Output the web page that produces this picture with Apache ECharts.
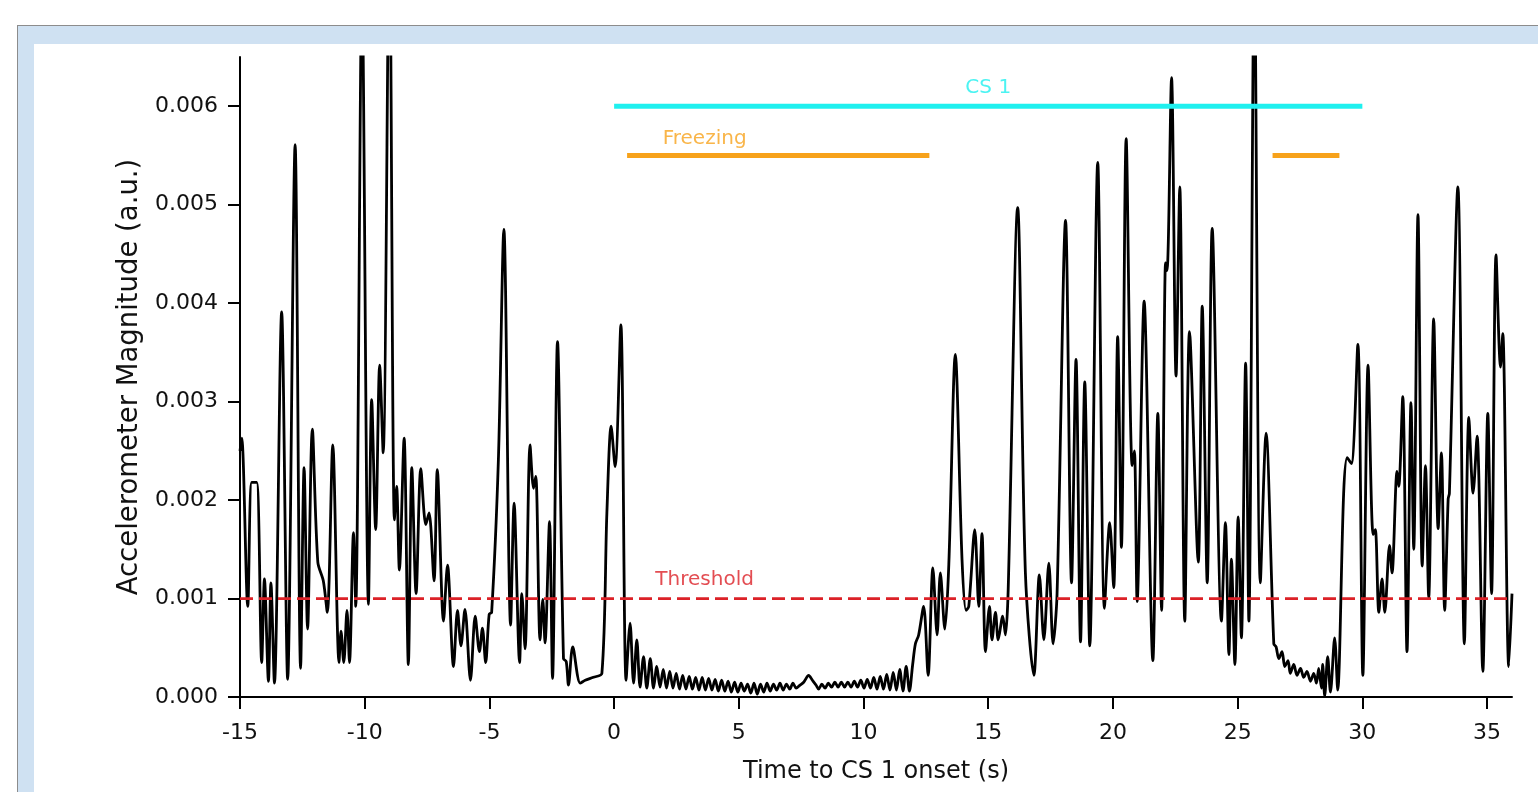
<!DOCTYPE html>
<html>
<head>
<meta charset="utf-8">
<script src="https://cdn.jsdelivr.net/npm/echarts@6/dist/echarts.min.js"></script>
<style>
  html, body { margin: 0; padding: 0; background: #ffffff; overflow: hidden; }
  #frame { position: absolute; left: 17px; top: 25px; width: 1600px; height: 900px;
           border: 1px solid #8c8c8c; background: #cfe1f2; box-sizing: border-box; }
  #panel { position: absolute; left: 34px; top: 44px; width: 1600px; height: 900px; background: #ffffff; }
  #chart { position: absolute; left: 0; top: 0; width: 1538px; height: 792px; }
</style>
</head>
<body>
<div id="frame"></div>
<div id="panel"></div>
<div id="chart"></div>
<script>
// ---- Data (time in s, magnitude in units of 0.001 a.u.) ----
const xTicks = [-15, -10, -5, 0, 5, 10, 15, 20, 25, 30, 35];
const yTicks = [0, 1, 2, 3, 4, 5, 6];
const yTickLabels = ['0.000', '0.001', '0.002', '0.003', '0.004', '0.005', '0.006'];

const signalPre = [
  [-15.0, 2.5], [-14.93, 2.63], [-14.69, 0.92], [-14.53, 2.18], [-14.33, 2.18], [-14.13, 0.35],
  [-14.02, 1.2], [-13.86, 0.16], [-13.76, 1.16], [-13.62, 0.14], [-13.33, 3.91], [-13.09, 0.18],
  [-12.79, 5.61], [-12.57, 0.29], [-12.43, 2.33], [-12.29, 0.69], [-12.1, 2.72], [-11.88, 1.37],
  [-11.66, 1.18], [-11.5, 0.86], [-11.28, 2.56], [-11.03, 0.35], [-10.95, 0.67], [-10.84, 0.35],
  [-10.71, 0.88], [-10.61, 0.35], [-10.45, 1.67], [-10.36, 0.92], [-10.11, 7.2], [-9.85, 0.94],
  [-9.72, 3.02], [-9.56, 1.7], [-9.4, 3.37], [-9.26, 2.48], [-9.01, 7.8], [-8.81, 1.8],
  [-8.72, 2.14], [-8.61, 1.29], [-8.42, 2.63], [-8.25, 0.33], [-8.11, 2.33], [-7.94, 1.05],
  [-7.75, 2.32], [-7.55, 1.75], [-7.42, 1.87], [-7.22, 1.18], [-7.09, 2.31], [-6.84, 0.77],
  [-6.68, 1.34], [-6.44, 0.31], [-6.28, 0.88], [-6.14, 0.52], [-5.98, 0.89], [-5.76, 0.17],
  [-5.57, 0.82], [-5.4, 0.46], [-5.28, 0.7], [-5.15, 0.35], [-5.01, 0.84], [-4.91, 0.86],
  [-4.64, 2.41], [-4.42, 4.75], [-4.15, 0.73], [-4.01, 1.97], [-3.79, 0.35], [-3.7, 1.05],
  [-3.57, 0.49], [-3.37, 2.56], [-3.23, 2.12], [-3.14, 2.24], [-2.97, 0.58], [-2.86, 0.99],
  [-2.77, 0.55], [-2.59, 1.78], [-2.47, 0.19], [-2.27, 3.61], [-2.03, 0.39], [-1.92, 0.36],
  [-1.83, 0.12], [-1.66, 0.51], [-1.36, 0.14], [-1.16, 0.17], [-0.83, 0.2], [-0.49, 0.24],
  [-0.29, 1.87], [-0.12, 2.75], [0.04, 2.34], [0.27, 3.78], [0.48, 0.17]
];
const signalFreeze1 = [
  [0.64, 0.75], [0.78, 0.14], [0.91, 0.58], [1.04, 0.10], [1.18, 0.41], [1.31, 0.09], [1.45, 0.39],
  [1.58, 0.09], [1.71, 0.31], [1.84, 0.10], [1.97, 0.28], [2.10, 0.09], [2.23, 0.26], [2.36, 0.09],
  [2.49, 0.24], [2.62, 0.08], [2.75, 0.22], [2.88, 0.08], [3.01, 0.21], [3.14, 0.08], [3.27, 0.2],
  [3.40, 0.07], [3.53, 0.2], [3.66, 0.07], [3.79, 0.19], [3.92, 0.07], [4.05, 0.18], [4.18, 0.06],
  [4.31, 0.17], [4.44, 0.06], [4.57, 0.16], [4.70, 0.05], [4.83, 0.15], [4.96, 0.05], [5.09, 0.14],
  [5.22, 0.06], [5.35, 0.13], [5.48, 0.04], [5.61, 0.14], [5.74, 0.03], [5.87, 0.13], [6.00, 0.05],
  [6.13, 0.14], [6.26, 0.06], [6.39, 0.13], [6.52, 0.07], [6.65, 0.14], [6.78, 0.07], [6.91, 0.13],
  [7.04, 0.08], [7.17, 0.14], [7.30, 0.09], [7.45, 0.12], [7.6, 0.15], [7.8, 0.22], [7.95, 0.17],
  [8.1, 0.12], [8.2, 0.08], [8.33, 0.13], [8.46, 0.09], [8.59, 0.14], [8.72, 0.1], [8.85, 0.15],
  [8.98, 0.1], [9.11, 0.15], [9.24, 0.1], [9.37, 0.15], [9.5, 0.1], [9.63, 0.16], [9.76, 0.1],
  [9.89, 0.17], [10.02, 0.09], [10.15, 0.18], [10.28, 0.09], [10.41, 0.2], [10.54, 0.08],
  [10.67, 0.21], [10.8, 0.08], [10.93, 0.23], [11.06, 0.07], [11.19, 0.25], [11.32, 0.07],
  [11.45, 0.28], [11.58, 0.06], [11.71, 0.31], [11.84, 0.06], [11.97, 0.33]
];
const signalMid = [
  [12.08, 0.54], [12.21, 0.63], [12.41, 0.92], [12.59, 0.22], [12.78, 1.31], [12.95, 0.63],
  [13.08, 1.26], [13.26, 0.69], [13.42, 1.35], [13.68, 3.48], [13.95, 1.39], [14.11, 0.88],
  [14.22, 0.92], [14.46, 1.7], [14.62, 0.92], [14.75, 1.66], [14.89, 0.46], [15.05, 0.92],
  [15.15, 0.58], [15.29, 0.86], [15.4, 0.58], [15.58, 0.82], [15.69, 0.63], [15.8, 1.09],
  [16.18, 4.97], [16.49, 1.26], [16.83, 0.22], [17.05, 1.24], [17.23, 0.58], [17.43, 1.36],
  [17.6, 0.54], [17.76, 1.05], [18.1, 4.84], [18.34, 1.16], [18.52, 3.43], [18.7, 0.56],
  [18.87, 3.2], [19.07, 0.52], [19.39, 5.43], [19.66, 0.9], [19.87, 1.77], [20.03, 1.11],
  [20.19, 3.66], [20.34, 1.52], [20.53, 5.67], [20.77, 2.35], [20.86, 2.5], [20.97, 0.97],
  [21.25, 4.02], [21.6, 0.37], [21.8, 2.88], [21.95, 0.88], [22.11, 4.41], [22.17, 4.33],
  [22.35, 6.29], [22.53, 3.26], [22.68, 5.18], [22.88, 0.77], [23.07, 3.71], [23.42, 1.37],
  [23.58, 3.97], [23.78, 1.16], [23.98, 4.76], [24.35, 0.77], [24.51, 1.77], [24.65, 0.43],
  [24.75, 1.4], [24.89, 0.33], [25.02, 1.83], [25.15, 0.6], [25.32, 3.39], [25.45, 0.77],
  [25.67, 7.5], [25.91, 1.16], [26.14, 2.68], [26.45, 0.54]
];
const signalFreeze2 = [
  [26.54, 0.51], [26.65, 0.39], [26.78, 0.46], [26.89, 0.31], [27.02, 0.37], [27.11, 0.24],
  [27.25, 0.33], [27.38, 0.22], [27.52, 0.29], [27.65, 0.2], [27.78, 0.26], [27.92, 0.16],
  [28.05, 0.24], [28.16, 0.14], [28.25, 0.29], [28.36, 0.09], [28.41, 0.33], [28.49, 0.01],
  [28.61, 0.41], [28.72, 0.05], [28.89, 0.6], [29.01, 0.07]
];
const signalPost = [
  [29.25, 2.07], [29.39, 2.43], [29.56, 2.37], [29.82, 3.58], [30.02, 0.22], [30.23, 3.37],
  [30.43, 1.65], [30.52, 1.7], [30.66, 0.86], [30.79, 1.2], [30.9, 0.86], [31.09, 1.54],
  [31.19, 1.26], [31.39, 2.29], [31.46, 2.14], [31.62, 3.05], [31.79, 0.46], [31.95, 2.99],
  [32.06, 1.5], [32.23, 4.9], [32.4, 1.33], [32.53, 2.35], [32.66, 1.01], [32.86, 3.84],
  [33.04, 1.71], [33.17, 2.48], [33.3, 0.88], [33.44, 2.01], [33.49, 2.07], [33.83, 5.18],
  [34.09, 0.54], [34.27, 2.84], [34.44, 2.07], [34.6, 2.65], [34.83, 0.26], [35.03, 2.88],
  [35.18, 1.05], [35.36, 4.49], [35.54, 3.35], [35.63, 3.69], [35.87, 0.31], [36.0, 1.05]
];

const threshold = 1.0;
const csLevel = 6.0;
const csInterval = [0, 30];
const freezeLevel = 5.5;
const freezeBouts = [[0.52, 12.64], [26.4, 29.08]];
const xRange = [-15, 36];
const labelAnchors = [
  { name: 'CS 1', x: 15, y: 6.0 },
  { name: 'Freezing', x: 3.63, y: 5.5 },
  { name: 'Threshold', x: 3.63, y: 1.0 }
];

// ---- Chart ----
const CYAN = '#1ff0ef';
const ORANGE = '#f7a21b';
const RED = '#dc2127';
const FONT = 'DejaVu Sans';

const signal = [].concat(signalPre, signalFreeze1, signalMid, signalFreeze2, signalPost);

const chart = echarts.init(document.getElementById('chart'), null, { renderer: 'canvas' });

const series = [
  {
    type: 'line', data: signal, showSymbol: false, symbol: 'none', smooth: 0.3,
    clip: true, lineStyle: { color: '#000000', width: 2.8 }, z: 2, silent: true
  },
  {
    type: 'line', data: [[xRange[0], threshold], [xRange[1], threshold]], symbol: 'none',
    lineStyle: { color: RED, width: 2.8, type: [13, 6] }, z: 3, silent: true
  },
  {
    type: 'line', data: [[csInterval[0], csLevel], [csInterval[1], csLevel]], symbol: 'none',
    lineStyle: { color: CYAN, width: 5, cap: 'butt' }, z: 4, silent: true
  }
];
freezeBouts.forEach(b => {
  series.push({
    type: 'line', data: [[b[0], freezeLevel], [b[1], freezeLevel]], symbol: 'none',
    lineStyle: { color: ORANGE, width: 5, cap: 'butt' }, z: 4, silent: true
  });
});
const labelColors = { 'CS 1': CYAN, 'Freezing': ORANGE, 'Threshold': RED };
const labelDist = { 'CS 1': 8, 'Freezing': 7, 'Threshold': 9 };
series.push({
  type: 'scatter', symbolSize: 0, z: 5, silent: true,
  data: labelAnchors.map(a => ({
    name: a.name, value: [a.x, a.y],
    label: { show: true, position: 'top', distance: labelDist[a.name], formatter: a.name,
             color: labelColors[a.name], fontSize: 20, fontFamily: FONT }
  }))
});

chart.setOption({
  animation: false,
  backgroundColor: 'transparent',
  grid: { left: 240, right: 26, top: 57, bottom: 95, containLabel: false, outerBoundsMode: 'none' },
  xAxis: {
    type: 'value', min: xRange[0], max: xRange[1],
    name: 'Time to CS 1 onset (s)', nameLocation: 'middle', nameGap: 63,
    nameTextStyle: { fontSize: 24, color: '#111', fontFamily: FONT },
    axisLine: { show: true, onZero: false, lineStyle: { color: '#000', width: 2 } },
    axisTick: { show: true, inside: false, length: 12, customValues: xTicks, lineStyle: { color: '#000', width: 2 } },
    axisLabel: { customValues: xTicks, fontSize: 22, color: '#111', margin: 25, fontFamily: FONT,
                 formatter: v => String(v) },
    splitLine: { show: false }
  },
  yAxis: {
    type: 'value', min: 0, max: 6.5,
    name: 'Accelerometer Magnitude (a.u.)', nameLocation: 'middle', nameGap: 91,
    nameTextStyle: { fontSize: 27.5, color: '#111', fontFamily: FONT },
    axisLine: { show: true, onZero: false, lineStyle: { color: '#000', width: 2 } },
    axisTick: { show: true, inside: false, length: 12, customValues: yTicks, lineStyle: { color: '#000', width: 2 } },
    axisLabel: { customValues: yTicks, fontSize: 22, color: '#111', margin: 22, fontFamily: FONT,
                 formatter: v => yTickLabels[yTicks.indexOf(Math.round(v))] },
    splitLine: { show: false }
  },
  series: series
});
</script>
</body>
</html>
